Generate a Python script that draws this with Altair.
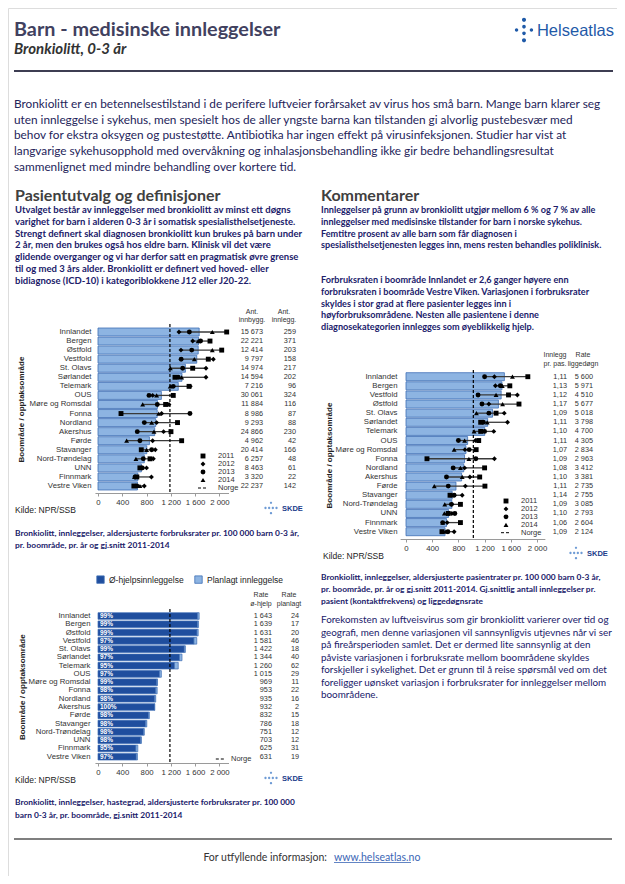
import altair as alt
import pandas as pd

# ---------------- data ----------------
areas_rate = ["Innlandet", "Bergen", "Østfold", "Vestfold", "St. Olavs", "Sørlandet", "Telemark", "OUS",
              "Møre og Romsdal", "Fonna", "Nordland", "Akershus", "Førde", "Stavanger", "Nord-Trøndelag",
              "UNN", "Finnmark", "Vestre Viken"]
areas_pat = ["Innlandet", "Bergen", "Vestfold", "Østfold", "St. Olavs", "Sørlandet", "Telemark", "OUS",
             "Møre og Romsdal", "Fonna", "Nordland", "Akershus", "Førde", "Stavanger", "Nord-Trøndelag",
             "UNN", "Finnmark", "Vestre Viken"]
years = ["2011", "2012", "2013", "2014"]
legend_entries = ["2011", "2012", "2013", "2014", "Norge"]

# chart 1: admission rates (mean 2011-2014) and per year
rate_mean = [1667, 1656, 1651, 1627, 1440, 1384, 1322, 1044, 980, 975, 951, 934, 847, 804, 763, 715, 656, 650]
rate_2011 = [2120, 1845, 2038, 1817, 1560, 1268, 1500, 1240, 1114, 379, 1310, 1202, 1378, 713, 857, 690, 640, 591]
rate_2012 = [1334, 1560, 1367, 1900, 1779, 1779, 1520, 900, 1169, 1048, 966, 1080, 900, 944, 912, 800, 880, 763]
rate_2013 = [1505, 1690, 1544, 1370, 1395, 1320, 1240, 840, 977, 1515, 763, 647, 691, 884, 746, 730, 610, 640]
rate_2014 = [1883, 1650, 1883, 1587, 1192, 1378, 1190, 966, 736, 1000, 884, 922, 472, 801, 625, 700, 600, 691]
ant_innbygg = [15673, 22221, 12414, 9797, 14974, 14594, 7216, 30061, 11884, 8986, 9293, 24866, 4962, 20414,
               6257, 8463, 3320, 22237]
ant_innlegg = [259, 371, 203, 158, 217, 202, 96, 324, 116, 87, 88, 230, 42, 166, 48, 61, 22, 142]
norge_rate = 1185

# chart 2: patient rates
pat_mean = [1502, 1465, 1453, 1411, 1321, 1247, 1202, 941, 916, 894, 881, 849, 763, 705, 700, 650, 619, 596]
pat_2011 = [1860, 1585, 1565, 1725, 1375, 1140, 1140, 1110, 1071, 320, 1200, 1125, 1205, 672, 831, 645, 831, 549]
pat_2012 = [1350, 1365, 1700, 1265, 1500, 1550, 1340, 1060, 900, 1350, 895, 975, 906, 858, 700, 700, 629, 735]
pat_2013 = [1200, 1440, 1100, 1160, 1265, 1180, 1200, 800, 965, 1066, 720, 618, 645, 735, 693, 746, 560, 640]
pat_2014 = [1625, 1470, 1375, 1475, 1075, 1240, 1040, 895, 735, 960, 831, 858, 432, 700, 592, 586, 560, 600]
innlegg_pr_pas = [1.11, 1.13, 1.12, 1.17, 1.09, 1.11, 1.10, 1.11, 1.07, 1.09, 1.08, 1.10, 1.11, 1.14, 1.09,
                  1.10, 1.06, 1.09]
rate_liggedogn = [5600, 5971, 4510, 5677, 5018, 3798, 4700, 4305, 2834, 2963, 3412, 3381, 2735, 2755, 3085,
                  2793, 2604, 2124]
norge_pat = 1028

# chart 3: urgency
rate_ohjelp = [1643, 1639, 1631, 1581, 1422, 1344, 1260, 1015, 969, 953, 935, 932, 832, 786, 751, 703, 625, 631]
rate_planlagt = [24, 17, 20, 46, 18, 40, 62, 29, 11, 22, 16, 2, 15, 18, 12, 12, 31, 19]
types = ["Ø-hjelpsinnleggelse", "Planlagt innleggelse"]

# ---------------- texts ----------------
title = "Barn - medisinske innleggelser"
subtitle = "Bronkiolitt, 0-3 år"
intro = [
    "Bronkiolitt er en betennelsestilstand i de perifere luftveier forårsaket av virus hos små barn.  Mange barn klarer seg",
    "uten innleggelse i sykehus, men spesielt hos de aller yngste barna kan  tilstanden gi alvorlig pustebesvær med",
    "behov for ekstra oksygen og pustestøtte. Antibiotika har  ingen effekt på virusinfeksjonen. Studier har vist at",
    "langvarige sykehusopphold med overvåkning og  inhalasjonsbehandling ikke gir bedre behandlingsresultat",
    "sammenlignet med mindre behandling over  kortere tid.",
]
left_head = "Pasientutvalg og definisjoner"
left_body = [
    "Utvalget består av innleggelser med bronkiolitt av minst ett døgns",
    "varighet for barn i alderen 0-3  år i somatisk spesialisthelsetjeneste.",
    "Strengt definert skal diagnosen bronkiolitt kun brukes på  barn under",
    "2 år, men den brukes også hos eldre barn. Klinisk vil det være",
    "glidende overganger og vi  har derfor satt en pragmatisk øvre grense",
    "til og med 3 års alder. Bronkiolitt er definert ved hoved-  eller",
    "bidiagnose (ICD-10) i kategoriblokkene J12 eller J20-22.",
]
right_head = "Kommentarer"
right_body_1 = [
    "Innleggelser på grunn av bronkiolitt utgjør mellom 6 % og 7 % av alle",
    "innleggelser med  medisinske tilstander for barn i norske sykehus.",
    "Femtitre prosent av alle barn som får diagnosen i",
    "spesialisthelsetjenesten legges inn, mens resten behandles poliklinisk.",
]
right_body_2 = [
    "Forbruksraten i boområde Innlandet er 2,6 ganger høyere enn",
    "forbruksraten i boområde Vestre Viken. Variasjonen i forbruksrater",
    "skyldes i stor grad at flere  pasienter legges inn i",
    "høyforbruksområdene. Nesten alle pasientene i denne",
    "diagnosekategorien  innlegges som øyeblikkelig hjelp.",
]
cap1 = ["Bronkiolitt, innleggelser, aldersjusterte forbruksrater pr. 100 000 barn 0-3 år,",
        "pr. boområde, pr. år  og gj.snitt 2011-2014"]
cap2 = ["Bronkiolitt, innleggelser, aldersjusterte pasientrater pr. 100 000 barn 0-3 år,",
        "pr. boområde, pr. år  og gj.snitt 2011-2014. Gj.snittlig antall innleggelser pr.",
        "pasient (kontaktfrekvens) og liggedøgnsrate"]
cap3 = ["Bronkiolitt, innleggelser, hastegrad, aldersjusterte forbruksrater pr. 100 000",
        "barn 0-3 år, pr. boområde,  gj.snitt 2011-2014"]
right_bottom = [
    "Forekomsten av luftveisvirus som gir bronkiolitt varierer over tid og",
    "geografi, men denne variasjonen vil  sannsynligvis utjevnes når vi ser",
    "på fireårsperioden samlet. Det er dermed lite sannsynlig at den",
    "påviste  variasjonen i forbruksrate mellom boområdene skyldes",
    "forskjeller i sykelighet. Det er grunn  til å reise spørsmål ved om det",
    "foreligger uønsket variasjon i forbruksrater for innleggelser mellom",
    "boområdene.",
]
axis_title = "Boområde / opptaksområde"
kilde = "Kilde: NPR/SSB"
footer_txt = "For utfyllende informasjon:"
footer_link = "www.helseatlas.no"

# ---------------- styling helpers ----------------
ARIAL = "Liberation Sans"
BODY = "Lato"
NAVY = "#20206a"
GREY = "#333333"
BAR_FILL = "#8db4e2"
BAR_STROKE = "#3f6fb5"
SHAPES = ["square", "diamond", "circle", "triangle-up"]
W, H = 609, 868
ONE = pd.DataFrame({"d": [0]})
TAB = 7.3


def P(v):
    return v - 8


def tx(lines, x, yc, size, color=NAVY, font=BODY, weight="normal", style="normal", align="left", lh=None):
    if isinstance(lines, str):
        lines = [lines]
    return alt.Chart(ONE).mark_text(
        text=lines, align=align, baseline="alphabetic", font=font, fontSize=size,
        fontWeight=weight, fontStyle=style, color=color, lineHeight=lh or size * 1.2
    ).encode(x=alt.value(P(x)), y=alt.value(P(yc + 0.35 * size)))


def hline(x1, x2, y, color, w):
    return alt.Chart(ONE).mark_rule(color=color, strokeWidth=w).encode(
        x=alt.value(P(x1)), x2=alt.value(P(x2)), y=alt.value(P(y)))


def dots_path(pts):
    s = ""
    for cx, cy, r in pts:
        s += f"M{cx - r:.3f},{cy:.3f}a{r},{r} 0 1,0 {2 * r:.3f},0a{r},{r} 0 1,0 {-2 * r:.3f},0Z"
    return s


HELSE_DOTS = dots_path([(0, -0.85, 0.17), (0, -0.28, 0.15), (0, 0.28, 0.15), (0, 0.85, 0.17),
                        (-0.62, 0, 0.14), (0.62, 0, 0.14)])
SKDE_DOTS = dots_path([(0, -0.85, 0.19), (-0.9, 0, 0.19), (-0.3, 0, 0.19), (0.3, 0, 0.19),
                       (0.9, 0, 0.19), (0, 0.85, 0.19)])


def logo(path, x, y, size, color):
    return alt.Chart(ONE).mark_point(shape=path, size=size, filled=True, color=color, opacity=1).encode(
        x=alt.value(P(x)), y=alt.value(P(y)))


def skde(x, y):
    return [logo(SKDE_DOTS, x, y, 150, "#6e9bd5"),
            tx("SKDE", x + 11, y, 7.5, color="#203c8a", font=ARIAL, weight="bold")]


def xaxis(offset):
    return alt.Axis(orient="bottom", offset=offset, values=[0, 400, 800, 1200, 1600, 2000],
                    labelExpr="replace(format(datum.value, ','), ',', ' ')", title=None, grid=False,
                    domainColor="#9a9a9a", tickColor="#9a9a9a", tickSize=3, labelPadding=2,
                    labelFont=ARIAL, labelFontSize=7.8, labelColor=GREY, labelFlush=False,
                    labelOverlap=False)


def yaxis(offset, tx_, ty_):
    return alt.Axis(orient="left", offset=offset, title=axis_title, titleX=tx_, titleY=ty_, titleAngle=270,
                    titleAlign="center", titleBaseline="middle", titleFont=ARIAL, titleFontSize=8,
                    titleFontWeight="bold", titleColor="#222222", domain=False, ticks=False, tickSize=0,
                    labelPadding=3, labelFont=ARIAL, labelFontSize=7.8, labelColor=GREY, labelOverlap=False)


def band(domain, c_first, c_last, pin, pout):
    n = len(domain)
    step = (c_last - c_first) / (n - 1)
    return alt.Scale(domain=domain, range=[P(c_first - step / 2), P(c_last + step / 2)],
                     paddingInner=pin, paddingOuter=pout)


def linscale(x0, k, d0, d1):
    return alt.Scale(domain=[d0, d1], range=[P(x0 + d0 * k), P(x0 + d1 * k)], nice=False, zero=False)


def year_long(areas, series):
    rows = []
    for yr, vals in zip(years, series):
        for a, v in zip(areas, vals):
            rows.append({"area": a, "year": yr, "value": v})
    return pd.DataFrame(rows)


def num_text(df, field, scale, x, expr=None):
    base = alt.Chart(df)
    if expr:
        base = base.transform_calculate(lab=expr)
        field = "lab"
    return base.mark_text(align="right", baseline="middle", font=ARIAL, fontSize=TAB, color=GREY).encode(
        y=alt.Y("area:N", scale=scale, axis=None), x=alt.value(P(x)), text=f"{field}:N")


def year_legend(sym_x, lab_x, y_first, y_last):
    """Legend for the year markers and the Norway line, placed via a point scale."""
    ls = alt.Scale(type="point", domain=legend_entries, range=[P(y_first), P(y_last)], padding=0)
    ldf = pd.DataFrame({"entry": legend_entries})
    sym = alt.Chart(ldf).transform_filter("datum.entry != 'Norge'").mark_point(
        filled=True, color="black", opacity=1, size=24).encode(
        x=alt.value(P(sym_x)), y=alt.Y("entry:N", scale=ls, axis=None),
        shape=alt.Shape("entry:N", scale=alt.Scale(domain=years, range=SHAPES), legend=None))
    dash = alt.Chart(ldf).transform_filter("datum.entry == 'Norge'").mark_rule(
        color="black", strokeWidth=1, strokeDash=[3, 2]).encode(
        x=alt.value(P(sym_x - 5)), x2=alt.value(P(sym_x + 5)), y=alt.Y("entry:N", scale=ls, axis=None))
    lab = alt.Chart(ldf).mark_text(align="left", baseline="middle", font=ARIAL, fontSize=7.5, color=GREY).encode(
        x=alt.value(P(lab_x)), y=alt.Y("entry:N", scale=ls, axis=None), text="entry:N")
    return [sym, dash, lab]


layers = []

# ---------------- header ----------------
layers += [
    tx(title, 14, 29, 19.8, color="#41415f", weight="bold"),
    tx(subtitle, 14, 49, 15, color="#333333", weight="bold", style="italic"),
    logo(HELSE_DOTS, 524, 30, 576, "#1f5aa8"),
    tx("Helseatlas", 614, 30, 16.5, color="#1f5aa8", font=ARIAL, align="right"),
    hline(14, 613, 71, "#3d3d52", 2),
    tx(intro, 14, 104, 11.8, color="#24245a", lh=15.6),
    tx(left_head, 15, 195, 16, color="#404040", weight="bold"),
    tx(left_body, 15, 210, 9.5, weight="bold", lh=11.7),
    tx(right_head, 321, 195, 16, color="#404040", weight="bold"),
    tx(right_body_1, 321, 210, 9.1, weight="bold", lh=11.7),
    tx(right_body_2, 321, 280, 9.1, weight="bold", lh=11.7),
]

# ---------------- chart 1: rates ----------------
xs1 = linscale(98, 0.0607, -50, 2150)
ys1 = band(areas_rate, 332, 486, 0.12, 0.06)
df1 = pd.DataFrame({"area": areas_rate, "rate": rate_mean, "innbygg": ant_innbygg, "innlegg": ant_innlegg})
df1y = year_long(areas_rate, [rate_2011, rate_2012, rate_2013, rate_2014])

layers += [
    alt.Chart(df1).mark_bar(fill=BAR_FILL, stroke=BAR_STROKE, strokeWidth=0.8).encode(
        x=alt.X("rate:Q", scale=xs1, axis=xaxis(P(493) - H)),
        y=alt.Y("area:N", scale=ys1, axis=yaxis(-P(94), P(21.7) - P(94), P(409)))),
    alt.Chart(df1y).mark_rule(color="#3a3a3a", strokeWidth=1.3).encode(
        x=alt.X("min(value):Q", scale=xs1, axis=None), x2="max(value):Q",
        y=alt.Y("area:N", scale=ys1, axis=None)),
    alt.Chart(df1y).mark_point(filled=True, color="black", opacity=1, size=24).encode(
        x=alt.X("value:Q", scale=xs1, axis=None),
        y=alt.Y("area:N", scale=ys1, axis=None),
        shape=alt.Shape("year:N", scale=alt.Scale(domain=years, range=SHAPES), legend=None)),
    alt.Chart(pd.DataFrame({"v": [norge_rate]})).mark_rule(color="black", strokeWidth=1.2, strokeDash=[3, 2]).encode(
        x=alt.X("v:Q", scale=xs1, axis=None), y=alt.value(P(324)), y2=alt.value(P(493))),
    num_text(df1, "innbygg", ys1, 263, "replace(format(datum.innbygg, ','), ',', ' ')"),
    num_text(df1, "innlegg", ys1, 296),
    tx(["Ant.", "innbygg."], 252, 311.5, 7, color=GREY, font=ARIAL, align="center", lh=8.5),
    tx(["Ant.", "innlegg."], 284, 311.5, 7, color=GREY, font=ARIAL, align="center", lh=8.5),
    tx(kilde, 15, 510, 8.5, color="#222222", font=ARIAL),
    tx(cap1, 15, 532.7, 8.4, weight="bold", lh=12.3),
] + year_legend(203, 218, 456, 488) + skde(271, 508)

# ---------------- chart 2: patient rates ----------------
xs2 = linscale(406, 0.0655, -90, 2120)
ys2 = band(areas_pat, 376.7, 531.7, 0.12, 0.06)
df2 = pd.DataFrame({"area": areas_pat, "rate": pat_mean, "kf": innlegg_pr_pas, "ligg": rate_liggedogn})
df2y = year_long(areas_pat, [pat_2011, pat_2012, pat_2013, pat_2014])

layers += [
    alt.Chart(df2).mark_bar(fill=BAR_FILL, stroke=BAR_STROKE, strokeWidth=0.8).encode(
        x=alt.X("rate:Q", scale=xs2, axis=xaxis(P(539) - H)),
        y=alt.Y("area:N", scale=ys2, axis=yaxis(-P(400), P(329.7) - P(400), P(455)))),
    alt.Chart(df2y).mark_rule(color="#3a3a3a", strokeWidth=1.3).encode(
        x=alt.X("min(value):Q", scale=xs2, axis=None), x2="max(value):Q",
        y=alt.Y("area:N", scale=ys2, axis=None)),
    alt.Chart(df2y).mark_point(filled=True, color="black", opacity=1, size=24).encode(
        x=alt.X("value:Q", scale=xs2, axis=None),
        y=alt.Y("area:N", scale=ys2, axis=None),
        shape=alt.Shape("year:N", scale=alt.Scale(domain=years, range=SHAPES), legend=None)),
    alt.Chart(pd.DataFrame({"v": [norge_pat]})).mark_rule(color="black", strokeWidth=1.2, strokeDash=[3, 2]).encode(
        x=alt.X("v:Q", scale=xs2, axis=None), y=alt.value(P(370)), y2=alt.value(P(539))),
    num_text(df2, "kf", ys2, 567, "replace(format(datum.kf, '.2f'), '.', ',')"),
    num_text(df2, "ligg", ys2, 593, "replace(format(datum.ligg, ','), ',', ' ')"),
    tx(["Innlegg", "pr. pas."], 555, 355, 7, color=GREY, font=ARIAL, align="center", lh=8.7),
    tx(["Rate", "liggedøgn"], 583, 355, 7, color=GREY, font=ARIAL, align="center", lh=8.7),
    tx(kilde, 323, 556, 8.5, color="#222222", font=ARIAL),
    tx(cap2, 321, 577, 8.4, weight="bold", lh=12),
    tx(right_bottom, 321, 620, 9.85, lh=12.5),
] + year_legend(506, 521, 501, 532.7) + skde(576, 553)

# ---------------- chart 3: urgency ----------------
xs3 = linscale(98, 0.0607, -50, 2150)
ys3 = band(areas_rate, 616, 756.7, 0.2, 0.1)
rows3 = []
for a, oh, pl in zip(areas_rate, rate_ohjelp, rate_planlagt):
    rows3.append({"area": a, "type": types[0], "value": oh, "ord": 0})
    rows3.append({"area": a, "type": types[1], "value": pl, "ord": 1})
df3 = pd.DataFrame(rows3)
df3w = pd.DataFrame({"area": areas_rate, "oh": rate_ohjelp, "pl": rate_planlagt})

layers += [
    alt.Chart(df3).mark_bar(stroke=BAR_STROKE, strokeWidth=0.7).encode(
        x=alt.X("value:Q", stack="zero", scale=xs3, axis=xaxis(P(763) - H)),
        y=alt.Y("area:N", scale=ys3, axis=yaxis(-P(93), P(22.5) - P(93), P(686.7))),
        color=alt.Color("type:N", scale=alt.Scale(domain=types, range=["#1f4e9e", BAR_FILL]),
                        legend=alt.Legend(orient="none", legendX=P(96), legendY=P(575), direction="horizontal",
                                          title=None, symbolType="square", symbolSize=55, labelFont=ARIAL,
                                          labelFontSize=8.5, labelColor="#222222", columnPadding=9,
                                          labelOffset=4, padding=0, symbolStrokeWidth=0.8,
                                          symbolStrokeColor=BAR_STROKE)),
        order=alt.Order("ord:Q")),
    alt.Chart(df3w).transform_calculate(pct="round(100*datum.oh/(datum.oh+datum.pl)) + '%'").mark_text(
        align="left", baseline="middle", font=ARIAL, fontSize=6.5, fontWeight="bold", color="white").encode(
        y=alt.Y("area:N", scale=ys3, axis=None), x=alt.value(P(100)), text="pct:N"),
    alt.Chart(pd.DataFrame({"lab": ["Norge"], "v": [norge_rate]})).mark_rule(color="black", strokeWidth=1.2).encode(
        x=alt.X("v:Q", scale=xs3, axis=None), y=alt.value(P(609)), y2=alt.value(P(763)),
        strokeDash=alt.StrokeDash("lab:N", scale=alt.Scale(domain=["Norge"], range=[[3, 2]]),
                                  legend=alt.Legend(orient="none", legendX=P(215), legendY=P(754), title=None,
                                                    labelFont=ARIAL, labelFontSize=7.5, labelColor=GREY,
                                                    symbolSize=70, symbolStrokeWidth=1,
                                                    symbolStrokeColor="black", labelOffset=6, padding=0))),
    num_text(df3w, "oh", ys3, 272, "replace(format(datum.oh, ','), ',', ' ')"),
    num_text(df3w, "pl", ys3, 299),
    tx(["Rate", "ø-hjelp"], 261, 595, 7, color=GREY, font=ARIAL, align="center", lh=8.3),
    tx(["Rate", "planlagt"], 289, 595, 7, color=GREY, font=ARIAL, align="center", lh=8.3),
    tx(kilde, 15, 780, 8.5, color="#222222", font=ARIAL),
    tx(cap3, 15, 802.3, 8.4, weight="bold", lh=12.7),
] + skde(271, 778)

# ---------------- footer ----------------
layers += [
    hline(14, 612, 839, "#555555", 1.3),
    tx(footer_txt, 327, 857, 10.5, color="#333333", align="right"),
    tx(footer_link, 334, 857, 10.5, color="#3b66b5"),
    hline(334, 411, 862.5, "#3b66b5", 0.8),
]

chart = alt.layer(*layers).resolve_scale(
    x="independent", y="independent", shape="independent", strokeDash="independent", color="independent"
).resolve_axis(x="independent", y="independent").resolve_legend(
    shape="independent", strokeDash="independent", color="independent"
).properties(
    width=W, height=H, padding=0, autosize=alt.AutoSizeParams(type="none")
).configure_view(stroke=None).configure(font=ARIAL)

chart.save("out.html", embed_options={"renderer": "svg", "actions": False})
